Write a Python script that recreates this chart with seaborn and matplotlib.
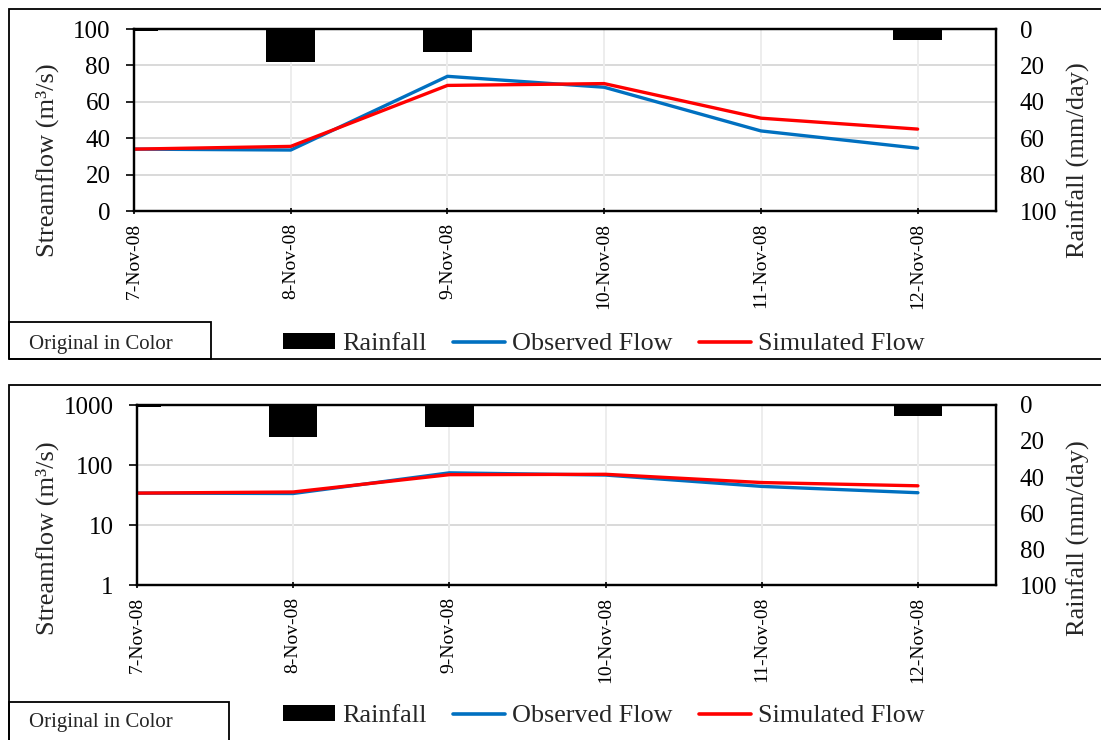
import numpy as np
import pandas as pd
import matplotlib
matplotlib.use("Agg")
import matplotlib.pyplot as plt
from matplotlib.patches import Rectangle, Patch
from matplotlib.lines import Line2D
import seaborn as sns

# Daily series for the November 2008 event
dates = ["7-Nov-08", "8-Nov-08", "9-Nov-08", "10-Nov-08", "11-Nov-08", "12-Nov-08"]
rainfall = [1.0, 18.0, 12.5, 0.0, 0.0, 6.0]           # mm/day
observed = [34.0, 33.5, 74.0, 68.0, 44.0, 34.5]       # m3/s
simulated = [34.0, 35.5, 69.0, 70.0, 51.0, 45.0]      # m3/s

lin_ticks = [0, 20, 40, 60, 80, 100]
log_ticks = [1, 10, 100, 1000]
rain_ticks = [0, 20, 40, 60, 80, 100]

sns.set_theme(style="white")
plt.rcParams["font.family"] = ["Liberation Serif", "DejaVu Serif"]

BLUE = "#0070C0"
RED = "#FF0000"

df = pd.DataFrame({"pos": np.arange(len(dates)), "date": dates,
                   "rain": rainfall, "obs": observed, "sim": simulated})

fig = plt.figure(figsize=(11.01, 7.40), dpi=100)
W, H = 1101, 740


def fx(px):
    return px / W


def fy(py):
    return 1 - py / H


def panel(left, top, bottom, right, log, label_y):
    width = right - left
    ax = fig.add_axes([fx(left), fy(bottom), fx(width), (bottom - top) / H])
    ax2 = ax.twinx()

    sns.lineplot(data=df, x="pos", y="obs", ax=ax, color=BLUE, lw=2.4,
                 zorder=3, legend=False)
    sns.lineplot(data=df, x="pos", y="sim", ax=ax, color=RED, lw=2.4,
                 zorder=4, legend=False)

    sns.barplot(data=df, x="date", y="rain", order=dates, ax=ax2, color="black",
                saturation=1, width=0.31, edgecolor="none", linewidth=0,
                errorbar=None)

    ax.set_xlim(0, 5.5)
    ax.set_xticks(range(len(dates)))
    ax.set_xticklabels(dates, rotation=90)

    if log:
        ax.set_yscale("log")
        ax.set_ylim(1, 1000)
        ax.set_yticks(log_ticks)
        ax.set_yticklabels([str(t) for t in log_ticks])
        ax.minorticks_off()
    else:
        ax.set_ylim(0, 100)
        ax.set_yticks(lin_ticks)
        ax.set_yticklabels([str(t) for t in lin_ticks])

    ax2.set_ylim(100, 0)
    ax2.set_yticks(rain_ticks)
    ax2.set_yticklabels([str(t) for t in rain_ticks])

    ax.tick_params(axis="y", labelsize=18, length=6, width=1.2, pad=11,
                   direction="out", left=True, colors="black")
    ax.tick_params(axis="x", labelsize=14, length=5, width=1.2, pad=6,
                   direction="inout", bottom=True, colors="black")
    ax2.tick_params(axis="y", labelsize=18, length=0, pad=17, colors="black")
    ax2.tick_params(axis="x", bottom=False, labelbottom=False)

    ax.set_xlabel("")
    ax2.set_xlabel("")
    ax.set_ylabel("Streamflow (m³/s)", fontsize=19)
    ax2.set_ylabel("Rainfall (mm/day)", fontsize=19)
    # left title anchored by its right edge, right title by its left edge
    ax.yaxis.set_label_coords((59 - left) / width, label_y)
    ax2.yaxis.set_label_coords((1067 - left) / width, label_y)

    ax.grid(False)
    ax2.grid(False)
    for v in (lin_ticks[1:-1] if not log else [10, 100]):
        ax.axhline(v, color="#D9D9D9", lw=1.4, zorder=0)
    for p in range(1, len(dates)):
        ax.axvline(p, color="#EDEDED", lw=1.4, zorder=0)

    for a in (ax, ax2):
        for s in a.spines.values():
            s.set_color("black")
            s.set_linewidth(1.6)
    return ax, ax2


def frame(top, bottom, box_top, box_right, box_bottom, text_y, legend_y):
    fig.patches.append(Rectangle((fx(9), fy(bottom)), fx(1110 - 9), (bottom - top) / H,
                                 transform=fig.transFigure, fill=False,
                                 edgecolor="black", lw=1.3, clip_on=False))
    fig.patches.append(Rectangle((fx(9), fy(box_bottom)), fx(box_right - 9),
                                 (box_bottom - box_top) / H,
                                 transform=fig.transFigure, fill=False,
                                 edgecolor="black", lw=1.3, clip_on=False))
    fig.text(fx(29), fy(text_y), "Original in Color", fontsize=15,
             va="center", ha="left")
    handles = [Patch(facecolor="black", edgecolor="none"),
               Line2D([], [], color=BLUE, lw=2.6),
               Line2D([], [], color=RED, lw=2.6)]
    fig.legend(handles, ["Rainfall", "Observed Flow", "Simulated Flow"],
               loc="center", bbox_to_anchor=(fx(604), fy(legend_y)), ncol=3,
               frameon=False, fontsize=18.8, handlelength=2.0, handleheight=0.55,
               handletextpad=0.27, columnspacing=1.0, borderpad=0)


panel(134, 29, 211, 996, log=False, label_y=0.28)
panel(137, 405, 585, 996, log=True, label_y=0.26)

frame(9, 359, 322, 211, 359, 345, 344)
frame(385, 760, 702, 229, 760, 722, 716)

fig.savefig("out.png", dpi=100)
